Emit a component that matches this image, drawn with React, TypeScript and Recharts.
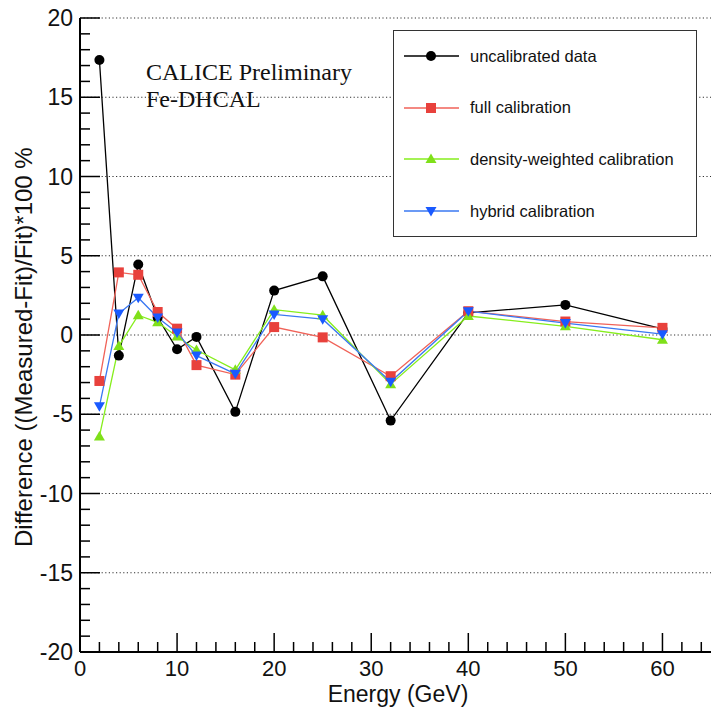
import React from 'react'
import { LineChart, Line, XAxis, YAxis, ReferenceLine } from 'recharts'

// beam energies (GeV)
const energies = [2, 4, 6, 8, 10, 12, 16, 20, 25, 32, 40, 50, 60]

const uncalibrated = [17.35, -1.3, 4.45, 1.1, -0.9, -0.12, -4.85, 2.8, 3.7, -5.4, 1.4, 1.9, 0.38]
const fullCalib = [-2.9, 3.95, 3.8, 1.45, 0.4, -1.9, -2.5, 0.5, -0.15, -2.6, 1.5, 0.85, 0.45]
const densityCalib = [-6.4, -0.7, 1.25, 0.8, -0.1, -0.95, -2.2, 1.6, 1.25, -3.1, 1.2, 0.55, -0.3]
const hybridCalib = [-4.5, 1.35, 2.35, 1.1, 0.15, -1.3, -2.45, 1.3, 1.0, -2.95, 1.5, 0.75, 0.05]

const xTicks = Array.from({ length: 33 }, (_, i) => i * 2)
const yTicks = Array.from({ length: 41 }, (_, i) => i - 20)
const gridLines = [-15, -10, -5, 0, 5, 10, 15, 20]

const data = energies.map((e, i) => ({
  e,
  uncal: uncalibrated[i],
  full: fullCalib[i],
  dens: densityCalib[i],
  hyb: hybridCalib[i],
}))

const SANS = '"Liberation Sans", Arial, sans-serif'

type Marker = 'circle' | 'square' | 'up' | 'down'

const SERIES: { key: string; name: string; line: string; fill: string; marker: Marker }[] = [
  { key: 'uncal', name: 'uncalibrated data', line: '#000000', fill: '#000000', marker: 'circle' },
  { key: 'full', name: 'full calibration', line: '#f06258', fill: '#e8413c', marker: 'square' },
  { key: 'dens', name: 'density-weighted calibration', line: '#86ee1c', fill: '#7fe01a', marker: 'up' },
  { key: 'hyb', name: 'hybrid calibration', line: '#3a78f2', fill: '#1a5aff', marker: 'down' },
]

function markerShape(m: Marker, cx: number, cy: number, fill: string, key?: any) {
  if (m === 'circle') return <circle key={key} cx={cx} cy={cy} r={5} fill={fill} />
  if (m === 'square') return <rect key={key} x={cx - 5} y={cy - 5} width={10} height={10} fill={fill} />
  if (m === 'up')
    return <polygon key={key} points={`${cx},${cy - 5.5} ${cx + 5.5},${cy + 4} ${cx - 5.5},${cy + 4}`} fill={fill} />
  return <polygon key={key} points={`${cx},${cy + 5.5} ${cx + 5.5},${cy - 4} ${cx - 5.5},${cy - 4}`} fill={fill} />
}

// ROOT-style ticks: pointing into the frame, labels on the majors only
function YTick(props: any) {
  const { x, y, payload } = props
  const v = payload.value
  const major = v % 5 === 0
  return (
    <g>
      <line x1={x} x2={x + (major ? 20 : 10)} y1={y} y2={y} stroke="#000" strokeWidth={1.5} />
      {major && (
        <text x={x - 7} y={y + 8} textAnchor="end" fontSize={23} fontFamily={SANS} fill="#111">
          {v}
        </text>
      )}
    </g>
  )
}

function XTick(props: any) {
  const { x, y, payload } = props
  const v = payload.value
  const major = v % 10 === 0
  return (
    <g>
      <line x1={x} x2={x} y1={y} y2={y - (major ? 19 : 10)} stroke="#000" strokeWidth={1.5} />
      {major && (
        <text x={x} y={y + 24} textAnchor="middle" fontSize={22} fontFamily={SANS} fill="#111">
          {v}
        </text>
      )}
    </g>
  )
}

function LegendBox() {
  return (
    <div
      style={{
        position: 'absolute', left: 393, top: 30, width: 302, height: 205,
        border: '1.5px solid #333', background: '#fff', fontFamily: SANS, fontSize: 16.5, color: '#111',
      }}
    >
      {SERIES.map((s, i) => (
        <div key={s.key} style={{ position: 'absolute', left: 9, top: 13 + i * 51.7, height: 24, display: 'flex', alignItems: 'center' }}>
          <svg width={58} height={24} style={{ marginRight: 9 }}>
            <line x1={1} x2={56} y1={12} y2={12} stroke={s.line} strokeWidth={1.5} />
            {markerShape(s.marker, 28, 12, s.fill)}
          </svg>
          <span>{s.name}</span>
        </div>
      ))}
    </div>
  )
}

export default function App() {
  return (
    <div style={{ position: 'absolute', left: 0, top: 0, width: 711, height: 707, overflow: 'hidden', background: '#fff' }}>
      <LineChart width={711} height={707} data={data} margin={{ top: 18, right: 0, left: 0, bottom: 0 }}>
        {gridLines.map((g) => (
          <ReferenceLine key={g} y={g} stroke="#333" strokeWidth={1.2} strokeDasharray="1.2 2.4" />
        ))}
        <XAxis
          dataKey="e"
          type="number"
          domain={[0, 65]}
          ticks={xTicks}
          interval={0}
          tickLine={false}
          tickSize={0}
          tickMargin={0}
          height={55}
          axisLine={{ stroke: '#000', strokeWidth: 2 }}
          tick={<XTick />}
          allowDataOverflow
          label={(p: any) => (
            <text x={398} y={702} textAnchor="middle" fontSize={23} fontFamily={SANS} fill="#111">
              Energy (GeV)
            </text>
          )}
        />
        <YAxis
          type="number"
          domain={[-20, 20]}
          ticks={yTicks}
          interval={0}
          tickLine={false}
          tickSize={0}
          tickMargin={0}
          width={80}
          axisLine={{ stroke: '#000', strokeWidth: 2 }}
          tick={<YTick />}
          allowDataOverflow
          label={(p: any) => (
            <text
              x={32}
              y={547}
              transform="rotate(-90 32 547)"
              textAnchor="start"
              fontSize={24}
              fontFamily={SANS}
              fill="#111"
            >
              Difference ((Measured-Fit)/Fit)*100 %
            </text>
          )}
        />
        {SERIES.map((s) => (
          <Line
            key={s.key}
            dataKey={s.key}
            name={s.name}
            type="linear"
            stroke={s.line}
            strokeWidth={1.3}
            isAnimationActive={false}
            dot={(p: any) => markerShape(s.marker, p.cx, p.cy, s.fill, `${s.key}-${p.index}`)}
            activeDot={false}
          />
        ))}
      </LineChart>
      <div
        style={{
          position: 'absolute', left: 146, top: 59, fontFamily: '"Liberation Serif", "Times New Roman", serif',
          fontSize: 24, lineHeight: '27px', color: '#111', whiteSpace: 'nowrap',
        }}
      >
        CALICE Preliminary
        <br />
        Fe-DHCAL
      </div>
      <LegendBox />
    </div>
  )
}
